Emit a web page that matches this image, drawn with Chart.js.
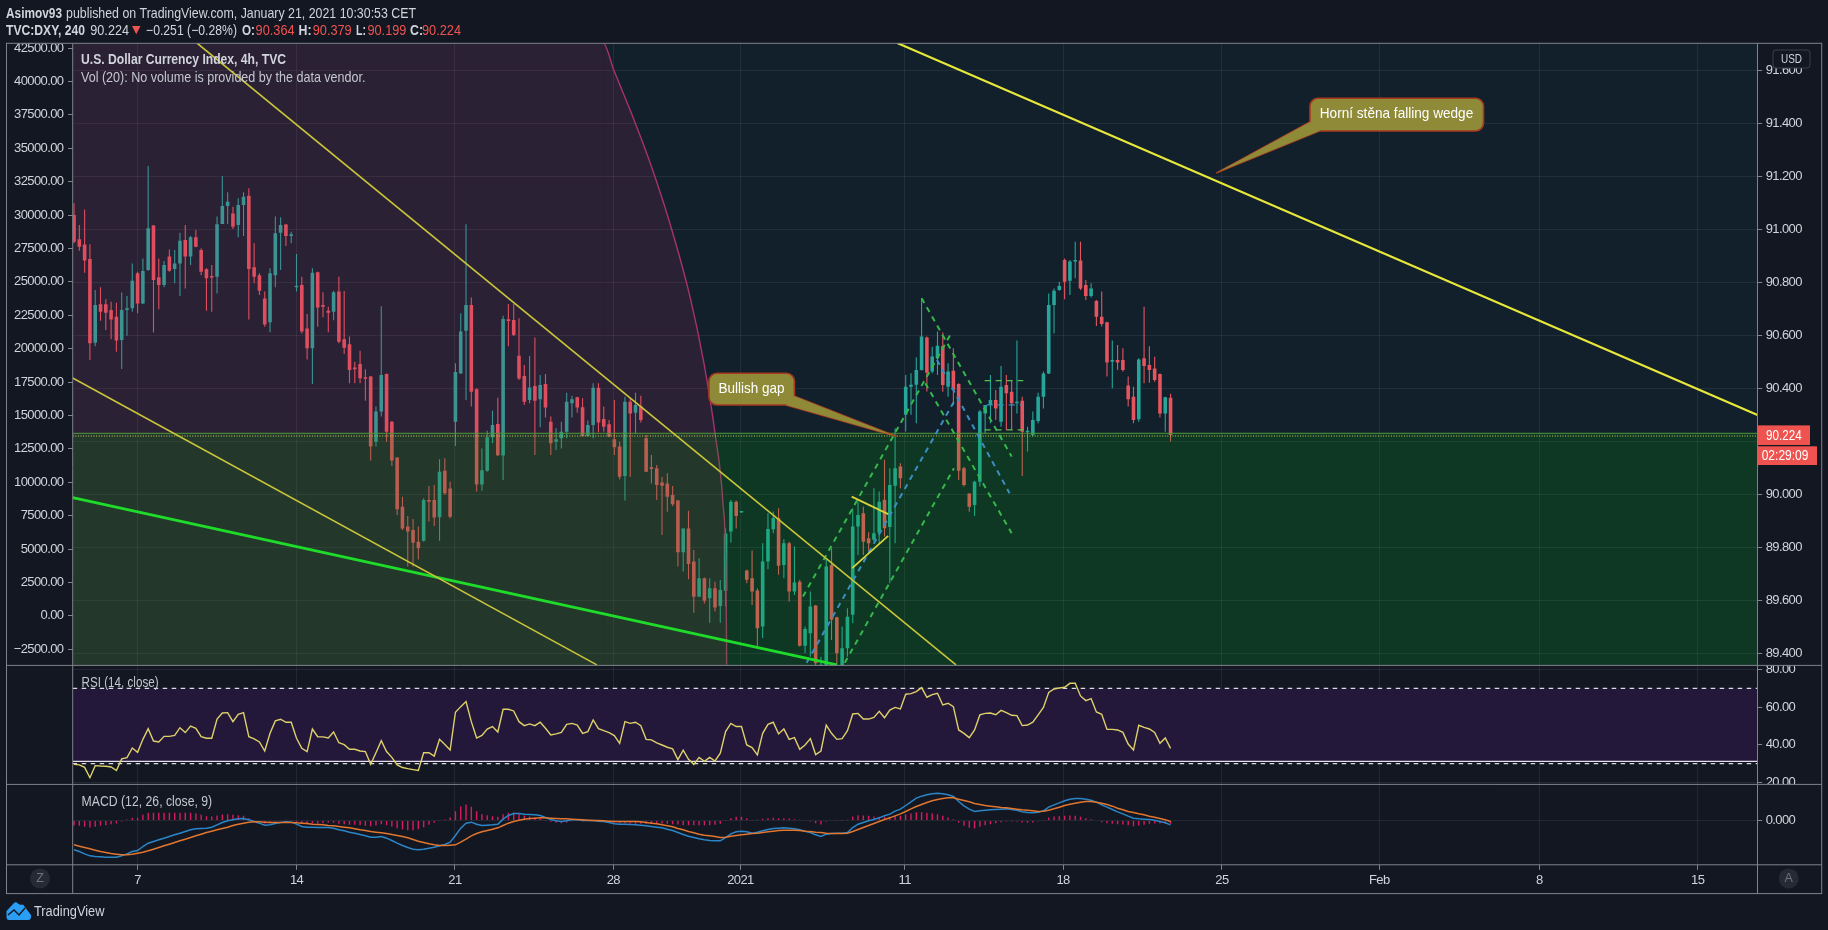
<!DOCTYPE html>
<html><head><meta charset="utf-8">
<style>html,body{margin:0;padding:0;background:#131722;overflow:hidden}canvas{display:block}</style>
<script src="https://cdn.jsdelivr.net/npm/chart.js@4/dist/chart.umd.js"></script>
</head><body><canvas id="c" width="1828" height="930"></canvas>
<script>
// ---------- data (bar index = one 4h candle) ----------
const opens = [
91.054,90.962,90.943,90.888,90.572,90.717,90.717,90.695,90.670,90.582,
90.695,90.702,90.834,90.720,90.846,91.014,90.819,90.790,90.897,90.850,
90.871,90.960,90.897,90.970,90.922,90.849,90.824,90.821,91.020,91.088,
91.060,91.016,91.092,91.127,90.857,90.827,90.739,90.649,90.827,90.987,
91.018,90.975,90.781,90.790,90.626,90.551,90.838,90.714,90.693,90.689,
90.765,90.585,90.566,90.475,90.492,90.442,90.444,90.198,90.312,90.454,
90.274,90.139,89.953,89.878,89.865,89.821,89.824,89.978,89.978,89.913,
90.089,90.022,90.274,90.456,90.617,90.714,90.396,90.037,90.089,90.215,
90.265,90.146,90.660,90.658,90.523,90.446,90.356,90.409,90.359,90.416,
90.274,90.198,90.211,90.236,90.343,90.366,90.328,90.220,90.261,90.402,
90.284,90.264,90.208,90.180,90.069,90.349,90.308,90.331,90.211,90.102,
90.098,90.044,90.041,89.997,89.976,89.781,89.871,89.746,89.613,89.683,
89.607,89.645,89.578,89.636,89.859,89.972,89.931,89.712,89.683,89.637,
89.501,89.746,89.868,89.910,89.733,89.815,89.633,89.670,89.428,89.475,
89.580,89.300,89.290,89.733,89.536,89.300,89.419,89.545,89.878,89.928,
89.834,89.828,89.855,89.979,89.876,90.032,90.105,90.300,90.406,90.413,
90.469,90.592,90.463,90.513,90.559,90.406,90.466,90.416,90.098,90.003,
89.959,90.047,90.305,90.337,90.356,90.274,90.412,90.387,90.343,90.353,
90.234,90.224,90.276,90.368,90.456,90.714,90.771,90.884,90.806,90.878,
90.882,90.790,90.748,90.729,90.670,90.649,90.500,90.507,90.507,90.410,
90.368,90.283,90.513,90.488,90.475,90.454,90.305,90.364];
const closes = [
90.953,90.934,90.882,90.570,90.714,90.689,90.685,90.660,90.580,90.695,
90.702,90.806,90.720,90.843,91.004,90.809,90.790,90.865,90.844,90.871,
90.957,90.897,90.970,90.934,90.840,90.815,90.818,91.019,91.088,91.104,
91.010,91.092,91.123,90.850,90.821,90.768,90.641,90.834,90.985,91.016,
90.975,90.981,90.786,90.614,90.551,90.836,90.705,90.708,90.685,90.762,
90.576,90.553,90.469,90.472,90.438,90.436,90.180,90.312,90.450,90.236,
90.127,89.943,89.871,89.859,89.817,89.796,89.978,89.972,89.912,90.085,
90.004,89.915,90.461,90.614,90.714,90.387,90.037,90.091,90.215,90.261,
90.147,90.661,90.654,90.601,90.437,90.349,90.403,90.353,90.412,90.327,
90.192,90.208,90.236,90.349,90.359,90.327,90.220,90.261,90.402,90.271,
90.255,90.218,90.177,90.066,90.349,90.305,90.337,90.280,90.085,90.095,
90.035,90.032,89.991,89.962,89.781,89.871,89.737,89.613,89.683,89.598,
89.645,89.573,89.639,89.852,89.972,89.918,89.933,89.677,89.633,89.494,
89.746,89.869,89.910,89.730,89.815,89.633,89.667,89.428,89.491,89.576,
89.362,89.356,89.727,89.526,89.400,89.419,89.538,89.878,89.922,89.821,
89.815,89.853,89.972,89.872,90.035,90.098,90.060,90.406,90.413,90.469,
90.595,90.459,90.520,90.560,90.412,90.463,90.393,90.089,90.035,89.953,
90.047,90.312,90.337,90.356,90.324,90.406,90.381,90.343,90.349,90.236,
90.240,90.280,90.368,90.456,90.714,90.768,90.786,90.802,90.878,90.884,
90.777,90.748,90.777,90.670,90.643,90.497,90.507,90.497,90.469,90.359,
90.280,90.509,90.484,90.469,90.431,90.305,90.366,90.224];
const highs = [
91.098,91.016,91.075,90.944,90.771,90.781,90.736,90.727,90.723,90.761,
90.748,90.871,90.840,90.890,91.239,91.016,90.890,90.880,90.924,90.922,
90.987,91.016,90.975,90.997,90.928,90.853,90.865,91.048,91.201,91.140,
91.085,91.117,91.140,91.155,90.947,90.834,90.765,90.853,91.048,91.045,
91.020,90.991,90.907,90.821,90.680,90.853,90.840,90.762,90.708,90.768,
90.821,90.767,90.595,90.500,90.542,90.472,90.446,90.331,90.710,90.456,
90.276,90.139,89.991,89.918,89.907,89.878,89.985,90.031,90.035,90.132,
90.136,90.047,90.494,90.683,91.019,90.743,90.400,90.173,90.240,90.315,
90.364,90.674,90.718,90.718,90.664,90.488,90.522,90.592,90.450,90.454,
90.293,90.249,90.274,90.383,90.372,90.368,90.362,90.278,90.419,90.419,
90.331,90.280,90.356,90.198,90.368,90.362,90.383,90.372,90.224,90.148,
90.110,90.066,90.079,90.031,89.978,89.871,89.938,89.790,89.758,89.686,
89.683,89.670,89.676,89.871,89.978,89.976,89.934,89.715,89.788,89.645,
89.815,89.928,89.935,89.947,89.830,89.821,89.803,89.677,89.501,89.633,
89.582,89.387,89.759,89.796,89.538,89.501,89.570,89.947,89.972,89.954,
89.857,90.023,90.010,90.130,90.098,90.249,90.117,90.450,90.457,90.517,
90.740,90.595,90.557,90.614,90.610,90.494,90.551,90.419,90.104,90.003,
90.051,90.318,90.337,90.450,90.393,90.484,90.450,90.431,90.580,90.368,
90.255,90.312,90.383,90.463,90.758,90.777,90.802,90.890,90.884,90.953,
90.953,90.809,90.796,90.733,90.765,90.651,90.580,90.563,90.551,90.444,
90.406,90.513,90.708,90.559,90.519,90.456,90.368,90.379];
const lows = [
90.947,90.919,90.836,90.507,90.559,90.655,90.620,90.585,90.538,90.473,
90.598,90.689,90.683,90.718,90.844,90.610,90.698,90.781,90.840,90.796,
90.748,90.777,90.865,90.932,90.827,90.693,90.689,90.758,91.020,91.020,
91.001,90.970,90.975,90.660,90.796,90.752,90.632,90.611,90.781,90.846,
90.937,90.947,90.765,90.607,90.509,90.416,90.632,90.668,90.611,90.657,
90.570,90.529,90.419,90.419,90.419,90.353,90.127,90.180,90.293,90.198,
90.107,89.922,89.865,89.727,89.727,89.754,89.821,89.897,89.880,89.824,
89.997,89.909,90.182,90.456,90.356,90.331,90.010,90.013,90.085,90.192,
90.144,90.054,90.559,90.597,90.431,90.337,90.343,90.148,90.253,90.290,
90.148,90.167,90.173,90.211,90.290,90.308,90.218,90.218,90.211,90.234,
90.236,90.215,90.148,90.056,89.976,90.066,90.230,90.271,90.085,90.041,
89.978,89.846,89.934,89.956,89.727,89.708,89.679,89.553,89.613,89.588,
89.515,89.557,89.515,89.576,89.817,89.871,89.930,89.664,89.582,89.425,
89.457,89.717,89.853,89.696,89.683,89.595,89.620,89.425,89.400,89.387,
89.343,89.280,89.270,89.450,89.356,89.280,89.387,89.513,89.771,89.771,
89.784,89.821,89.815,89.840,89.664,89.815,90.023,90.237,90.300,90.268,
90.467,90.388,90.457,90.450,90.387,90.368,90.337,90.054,90.029,89.934,
89.918,90.029,90.230,90.268,90.280,90.255,90.242,90.242,90.305,90.069,
90.161,90.218,90.268,90.324,90.454,90.607,90.768,90.736,90.752,90.815,
90.771,90.733,90.743,90.635,90.633,90.444,90.400,90.469,90.463,90.331,
90.268,90.274,90.419,90.421,90.425,90.290,90.236,90.199];
const rsiValues = [
29.6,29.3,28.0,22.5,28.9,28.7,28.6,28.2,26.3,32.5,
33.2,38.3,36.0,42.9,48.6,42.0,41.5,44.5,44.5,45.0,
49.1,46.5,50.0,48.8,44.3,43.5,43.5,53.7,56.9,57.1,
52.3,56.2,57.1,44.3,43.1,41.5,36.7,46.1,52.7,53.6,
52.0,52.0,43.5,38.1,36.4,48.4,44.3,44.2,43.6,46.8,
41.1,40.1,37.6,37.6,36.7,36.4,29.6,35.8,42.2,36.4,
33.3,29.3,27.9,27.3,26.8,26.3,35.8,35.8,34.0,42.9,
40.1,37.2,57.3,60.3,63.0,52.3,43.6,45.0,48.4,49.7,
46.8,58.9,58.9,58.0,52.3,50.2,51.1,50.2,52.0,48.8,
45.2,45.8,46.6,50.9,51.4,50.5,46.1,47.0,53.2,48.6,
47.5,46.5,44.9,40.8,52.3,51.4,52.0,50.2,42.9,42.6,
41.0,39.9,38.7,37.8,32.1,37.1,32.3,29.6,33.3,31.2,
33.3,31.4,35.5,47.0,51.4,49.7,49.7,39.9,38.5,34.6,
46.1,50.9,52.0,45.8,48.4,42.9,43.8,37.6,39.9,43.3,
34.8,36.7,50.5,46.1,42.9,43.3,47.5,56.4,56.7,53.7,
53.7,54.6,57.8,54.4,58.5,59.9,59.1,66.9,67.2,68.3,
70.4,65.3,66.7,67.4,61.2,62.1,60.3,47.9,46.1,43.8,
47.9,55.9,56.7,56.9,56.0,58.3,57.1,55.7,55.5,50.2,
50.5,52.0,55.9,59.9,67.9,69.7,70.2,70.6,72.7,72.7,
66.0,63.5,64.6,57.5,56.2,48.2,48.2,47.9,46.6,40.4,
37.2,50.4,49.3,48.4,46.6,40.8,43.6,38.1];
// MACD pane values, in thousandths of an index point
const macdLine = [
-88,-93,-100,-106,-108,-109,-110,-110,-110,-106,
-100,-93,-90,-78,-68,-63,-58,-53,-48,-43,
-38,-33,-28,-25,-24,-23,-20,-13,-6,-1,
2,5,6,2,-3,-8,-14,-13,-9,-6,
-4,-5,-11,-18,-20,-20,-21,-21,-21,-23,
-28,-31,-35,-38,-42,-46,-50,-50,-48,-53,
-60,-68,-75,-81,-86,-88,-86,-83,-80,-76,
-72,-65,-45,-23,-8,-5,-11,-15,-14,-13,
-11,4,15,21,21,19,18,17,15,9,
3,-1,-3,-1,2,2,0,0,0,-2,
-3,-6,-10,-11,-11,-12,-13,-14,-16,-18,
-20,-22,-26,-30,-36,-42,-47,-51,-55,-58,
-60,-61,-61,-51,-40,-34,-32,-34,-38,-35,
-31,-27,-24,-23,-22,-23,-25,-28,-32,-36,
-43,-48,-41,-39,-38,-38,-36,-21,-11,-6,
-1,3,8,14,19,28,34,45,56,67,
73,77,80,82,80,77,72,57,44,34,
27,29,31,32,33,34,35,33,31,26,
24,23,25,29,40,47,53,59,64,66,
66,64,61,55,47,40,33,26,20,13,
7,5,4,3,1,-3,-7,-13];
const signalLine = [
-73,-77,-81,-85,-89,-93,-96,-99,-101,-103,
-103,-101,-98,-95,-91,-86,-81,-76,-71,-66,
-61,-56,-51,-46,-41,-36,-32,-28,-24,-20,
-15,-11,-8,-5,-4,-4,-5,-6,-6,-6,
-6,-6,-7,-8,-9,-11,-12,-13,-15,-16,
-18,-20,-22,-25,-28,-30,-33,-35,-37,-39,
-42,-45,-48,-52,-57,-62,-66,-70,-73,-75,
-75,-74,-73,-65,-56,-46,-39,-34,-30,-26,
-22,-15,-8,-3,1,4,6,7,8,8,
7,6,5,5,4,3,2,1,0,0,
-1,-2,-3,-3,-3,-3,-3,-4,-6,-8,
-10,-13,-16,-19,-24,-28,-33,-37,-41,-44,
-46,-48,-51,-50,-47,-45,-43,-41,-39,-38,
-36,-34,-32,-30,-29,-29,-29,-30,-32,-33,
-35,-36,-38,-39,-39,-39,-38,-33,-27,-21,
-15,-9,-3,3,8,14,20,27,35,42,
48,54,59,63,66,68,68,64,60,56,
51,48,45,43,41,39,38,36,34,32,
31,29,27,28,31,35,40,45,49,52,
55,57,57,55,52,48,43,37,32,27,
24,20,17,13,10,6,2,-3];
const macdHist = [
-15,-16,-19,-21,-19,-16,-14,-11,-9,-3,
3,8,8,17,23,23,23,23,23,23,
23,23,23,21,17,13,12,15,18,19,
17,16,14,7,1,-4,-9,-7,-3,0,
2,1,-4,-10,-11,-9,-9,-8,-6,-7,
-10,-11,-13,-13,-14,-16,-17,-15,-11,-14,
-18,-23,-27,-29,-29,-26,-20,-13,-7,-1,
3,9,28,42,48,41,28,19,16,13,
11,19,23,24,20,15,12,10,7,1,
-4,-7,-8,-6,-2,-1,-2,-1,0,-2,
-2,-4,-7,-8,-8,-9,-10,-10,-10,-10,
-10,-9,-10,-11,-12,-14,-14,-14,-14,-14,
-14,-13,-10,-1,7,11,11,7,1,3,
5,7,8,7,7,6,4,2,0,-3,
-8,-12,-3,0,1,1,2,12,16,15,
14,12,11,11,11,14,14,18,21,25,
25,23,21,19,14,9,4,-7,-16,-22,
-24,-19,-14,-11,-8,-5,-3,-3,-3,-6,
-7,-6,-2,1,9,12,13,14,15,14,
11,7,4,0,-5,-8,-10,-11,-12,-14,
-17,-15,-13,-10,-9,-9,-9,-10];

const timeTickBars = [12,42,71.9,101.8,125.8,156.8,186.7,216.7,246.4,276.6,306.5];
const timeTickLabels = ['7','14','21','28','2021','11','18','25','Feb','8','15'];
const priceTicks = [89.4,89.6,89.8,90.0,90.2,90.4,90.6,90.8,91.0,91.2,91.4,91.6];
const volumeTicks = [-2500,0,2500,5000,7500,10000,12500,15000,17500,20000,22500,25000,27500,30000,32500,35000,37500,40000,42500];
const rsiTicks = [20,40,60,80];
const macdTicks = [0];
// drawings, as [bar index, price]
const fibArc = [[-0.25,91.703],[99.9,91.703],[101.9,91.601],[105.5,91.424],[108.9,91.243],[112.3,91.035],[116.3,90.744],[118.9,90.496],[121.0,90.231],[122.5,89.967],[123.1,89.650],[123.2,89.356]];
const gapTop = [[-0.25,90.230],[317.8,90.230]];
const lastPriceLine = [[-0.25,90.220],[317.8,90.220]];
const wedgeUpper = [[155.4,91.703],[317.8,90.299]];
const fallingUpper = [[23.2,91.703],[166.5,89.356]];
const fallingLower = [[-0.25,90.439],[98.7,89.356]];
const greenSupport = [[-0.25,89.987],[144.0,89.356]];
const flagTop = [[146.8,89.991],[153.7,89.925]];
const flagBottom = [[146.9,89.721],[153.7,89.843]];
const channelUpper = [[137.6,89.614],[165.4,90.601]];
const channelLower = [[145.5,89.364],[166.1,90.098]];
const channelDownA = [[160.0,90.740],[177.0,90.142]];
const channelDownB = [[160.7,90.419],[177.0,89.853]];
const channelMidUp = [[138.3,89.364],[166.1,90.349]];
const channelMidDown = [[162.9,90.507],[176.6,90.004]];
const rangeTop = [[171.9,90.429],[179.2,90.429]];
const rangeBottom = [[171.9,90.243],[179.2,90.243]];
const rangeMid = [[172.3,90.337],[178.8,90.337]];
const rsiUpperBand = [[-0.25,70],[317.8,70]];
const rsiLowerBand = [[-0.25,30],[317.8,30]];
const rsiBandFloor = [[-0.25,31.2],[317.8,31.2]];

// ---------- layout / style ----------
const F = '"Liberation Sans",sans-serif';
const TXT = '#d1d4dc', FRAME = '#80838c', GRID = 'rgba(255,255,255,0.07)', RED = '#ef5350';
const UP = '#26a69a', DOWN = '#e4555f';
const X_MIN = -0.25, X_MAX = 317.8;
const bars = opens.map((_, i) => i);
const pts = a => a.map(p => ({x: p[0], y: p[1]}));
const series = a => a.map((v, i) => ({x: i, y: v}));
const candleColor = opens.map((o, i) => closes[i] >= o ? UP : DOWN);

function line(a, yAxisID, color, width, dash, order) {
  return {type: 'line', data: pts(a), yAxisID, borderColor: color, borderWidth: width,
    borderDash: dash || [], pointRadius: 0, tension: 0, fill: false, order: order || 5};
}
const GD = '#35b84a', BD = '#3a8fc0';
const datasets = [
  {type: 'bar', yAxisID: 'yP', order: 20, grouped: false, barThickness: 1.1, inflateAmount: 0,
   backgroundColor: candleColor, data: bars.map(i => ({x: i, y: [lows[i], highs[i]]}))},
  {type: 'bar', yAxisID: 'yP', order: 19, grouped: false, barThickness: 3.6, inflateAmount: 0, minBarLength: 1.6,
   backgroundColor: candleColor, data: bars.map(i => ({x: i, y: [opens[i], closes[i]]}))},
  {type: 'line', yAxisID: 'yP', order: 18, data: pts(fibArc), pointRadius: 0, cubicInterpolationMode: 'monotone', borderWidth: 1.4,
   borderColor: '#a8316f', fill: 'start', backgroundColor: 'rgba(185,39,104,0.15)',
   segment: {borderColor: c => c.p0DataIndex === 0 ? 'rgba(0,0,0,0)' : '#a8316f'}},
  {type: 'line', yAxisID: 'yP', order: 17, data: pts(gapTop), pointRadius: 0, tension: 0, borderWidth: 1,
   borderColor: '#4f9a3a', fill: 'start', backgroundColor: 'rgba(0,170,0,0.17)'},
  line(lastPriceLine, 'yP', 'rgba(190,190,90,0.75)', 1.6, [1, 1.6], 16),
  line(fallingUpper, 'yP', '#c9c43a', 1.6),
  line(fallingLower, 'yP', '#c9c43a', 1.6),
  line(greenSupport, 'yP', '#1fdc2a', 2.8),
  line(wedgeUpper, 'yP', '#e8e83a', 2.2),
  line(flagTop, 'yP', '#d6d23c', 1.8),
  line(flagBottom, 'yP', '#d6d23c', 1.8),
  line(channelUpper, 'yP', GD, 2, [5.5, 5]),
  line(channelLower, 'yP', GD, 2, [5.5, 5]),
  line(channelDownA, 'yP', GD, 2, [5.5, 5]),
  line(channelDownB, 'yP', GD, 2, [5.5, 5]),
  line(channelMidUp, 'yP', BD, 2, [5.5, 5]),
  line(channelMidDown, 'yP', BD, 2, [5.5, 5]),
  line(rangeTop, 'yP', '#56c14a', 1.2, [6, 5]),
  line(rangeBottom, 'yP', '#56c14a', 1.2, [6, 5]),
  line(rangeMid, 'yP', BD, 1.2, [6, 5]),

  {type: 'line', yAxisID: 'yR', order: 8, data: pts(rsiUpperBand), pointRadius: 0, borderWidth: 0,
   fill: {value: 31.2}, backgroundColor: '#24183a'},
  line(rsiUpperBand, 'yR', '#d9dbe3', 1.2, [4.5, 4.5], 6),
  line(rsiLowerBand, 'yR', '#d9dbe3', 1.2, [4.5, 4.5], 6),
  line(rsiBandFloor, 'yR', '#e4deee', 1.4, [], 6),
  {type: 'line', yAxisID: 'yR', order: 4, data: series(rsiValues), pointRadius: 0, tension: 0,
   borderColor: '#ded06a', borderWidth: 1.4},

  {type: 'bar', yAxisID: 'yM', order: 6, grouped: false, barThickness: 1.4, inflateAmount: 0,
   backgroundColor: '#d81b60', data: series(macdHist)},
  {type: 'line', yAxisID: 'yM', order: 5, data: series(macdLine), pointRadius: 0, tension: 0,
   borderColor: '#2a86c8', borderWidth: 1.5},
  {type: 'line', yAxisID: 'yM', order: 4, data: series(signalLine), pointRadius: 0, tension: 0,
   borderColor: '#e0762f', borderWidth: 1.5}
];

function yAxis(ticks, fmt, extra) {
  return Object.assign({
    type: 'linear', position: 'right', stack: 'panes',
    afterBuildTicks: s => { s.ticks = ticks.map(v => ({value: v})); },
    afterFit: s => { s.width = 64.2; },
    border: {display: false},
    grid: {color: GRID, tickColor: FRAME, tickLength: 4.7},
    ticks: {color: TXT, padding: 3.5, autoSkip: false, font: {family: F, size: 13}, callback: fmt}
  }, extra);
}

// text is condensed horizontally to the width it has in the picture
function label(ctx, t, x, y, color, font, w, align) {
  ctx.save();
  ctx.letterSpacing = '0px';
  ctx.fillStyle = color; ctx.font = font; ctx.textBaseline = 'middle'; ctx.textAlign = 'left';
  const natural = ctx.measureText(t).width;
  const sx = w ? w / natural : 1;
  const left = align === 'center' ? x - natural * sx / 2 : x;
  ctx.translate(left, y); ctx.scale(sx, 1);
  ctx.fillText(t, 0, 0);
  ctx.restore();
}
function callout(ctx, box, tail, text, cx, cy, w, tip) {
  ctx.save();
  ctx.fillStyle = '#8e8a38'; ctx.strokeStyle = '#a8391f'; ctx.lineWidth = 1.6;
  const wedge = () => { ctx.beginPath(); ctx.moveTo(tail[0][0], tail[0][1]); ctx.lineTo(tip[0], tip[1]); ctx.lineTo(tail[1][0], tail[1][1]); ctx.closePath(); };
  wedge(); ctx.fill(); ctx.stroke();
  ctx.beginPath(); ctx.roundRect(box[0], box[1], box[2], box[3], 8); ctx.fill(); ctx.stroke();
  wedge(); ctx.fill();
  ctx.restore();
  label(ctx, text, cx, cy, '#ffffff', '14.5px ' + F, w, 'center');
}

const chrome = {
  id: 'chrome',
  beforeDraw(chart) {
    const ctx = chart.ctx, y = chart.scales.yP, a = chart.chartArea;
    ctx.letterSpacing = '-0.6px';
    ctx.save(); ctx.fillStyle = '#12202c';
    ctx.fillRect(a.left, y.top, a.right - a.left, y.bottom - y.top); ctx.restore();
  },
  afterDraw(chart) {
    const ctx = chart.ctx, a = chart.chartArea, s = chart.scales;
    const yP = s.yP, yR = s.yR, yM = s.yM, xs = s.x;
    const BG = '#131722', L = 6.5, R = 1821.7, B = 893.6;
    ctx.save();
    // labels cut by the pane edges
    ctx.fillStyle = BG;
    ctx.fillRect(7, a.top - 12, 65, 12);
    ctx.fillRect(a.right + 1, yP.bottom - 5.4, 62, 5.4);
    ctx.fillRect(a.right + 1, yR.bottom, 62, 6);
    // frame
    ctx.strokeStyle = FRAME; ctx.lineWidth = 1;
    ctx.strokeRect(L, a.top, R - L, B - a.top);
    [yP.bottom, yR.bottom, yM.bottom].forEach(v => { ctx.beginPath(); ctx.moveTo(L, v); ctx.lineTo(R, v); ctx.stroke(); });
    [a.left, a.right].forEach(v => { ctx.beginPath(); ctx.moveTo(v, a.top); ctx.lineTo(v, B); ctx.stroke(); });

    // header
    const f = '14.5px ' + F, fb = 'bold 14.5px ' + F;
    label(ctx, 'Asimov93', 6, 13.5, TXT, fb, 56);
    label(ctx, 'published on TradingView.com, January 21, 2021 10:30:53 CET', 66, 13.5, TXT, f, 350);
    label(ctx, 'TVC:DXY, 240', 6, 30.5, TXT, fb, 79);
    label(ctx, '90.224', 90.3, 30.5, TXT, f, 38.7);
    label(ctx, '\u25BC', 132, 30.5, RED, '11px "DejaVu Sans"');
    label(ctx, '\u22120.251 (\u22120.28%)', 146, 30.5, TXT, f, 91);
    [['O:', 242, '90.364', 255.6], ['H:', 298.5, '90.379', 312.7], ['L:', 356, '90.199', 367.4], ['C:', 410, '90.224', 422]]
      .forEach(r => { label(ctx, r[0], r[1], 30.5, TXT, fb, r[0] === 'L:' ? 10 : 13); label(ctx, r[2], r[3], 30.5, RED, f, 39); });

    // pane titles
    label(ctx, 'U.S. Dollar Currency Index, 4h, TVC', 81, 60, TXT, fb, 205);
    label(ctx, 'Vol (20): No volume is provided by the data vendor.', 81, 77.5, '#c4c7cf', f, 284.5);
    label(ctx, 'RSI (14, close)', 81.6, 682.5, '#c4c7cf', f, 77);
    label(ctx, 'MACD (12, 26, close, 9)', 81.6, 801.5, '#c4c7cf', f, 130.6);

    // callouts
    callout(ctx, [709, 373.3, 85.4, 31.7], [[794, 396], [786, 405]], 'Bullish gap', 751.5, 388.5, 66,
      [xs.getPixelForValue(155.3), yP.getPixelForValue(90.218)]);
    callout(ctx, [1310, 98.3, 173.5, 32.7], [[1310, 122], [1320, 130.8]], 'Horn\u00ed st\u011bna falling wedge', 1396.5, 114, 153.4,
      [xs.getPixelForValue(215.6), yP.getPixelForValue(91.212)]);

    // USD box
    ctx.fillStyle = BG; ctx.strokeStyle = '#3a3e4a'; ctx.beginPath(); ctx.roundRect(1773, 50, 37, 18, 3); ctx.fill(); ctx.stroke();
    label(ctx, 'USD', 1791.5, 59, TXT, '13.5px ' + F, 21, 'center');

    // last price + countdown
    ctx.fillStyle = RED; ctx.fillRect(a.right, 425.4, 52.5, 19.6); ctx.fillRect(a.right, 446.3, 59.5, 18.7);
    label(ctx, '90.224', 1766, 435.5, '#ffffff', '14.5px ' + F, 35.7);
    label(ctx, '02:29:09', 1761.7, 455.8, '#ffffff', '14.5px ' + F, 46.7);

    // Z and A buttons
    [[40, 'Z'], [1788.7, 'A']].forEach(r => {
      ctx.fillStyle = '#262a35'; ctx.beginPath(); ctx.arc(r[0], 878.4, 10, 0, 7); ctx.fill();
      label(ctx, r[1], r[0], 878.4, '#6f7380', '12.5px ' + F, 0, 'center');
    });

    // TradingView mark
    ctx.fillStyle = '#2a9df4';
    ctx.beginPath();
    ctx.moveTo(6.5, 917); ctx.lineTo(6.5, 911); ctx.lineTo(14, 903); ctx.quadraticCurveTo(16, 901.5, 18, 903.5);
    ctx.quadraticCurveTo(20, 905.5, 23, 904.5); ctx.lineTo(31, 915); ctx.lineTo(31, 917); ctx.quadraticCurveTo(31, 920, 28, 920); ctx.lineTo(9, 920); ctx.quadraticCurveTo(6.5, 920, 6.5, 917); ctx.closePath(); ctx.fill();
    ctx.strokeStyle = BG; ctx.lineWidth = 1.4;
    ctx.beginPath(); ctx.moveTo(8, 915); ctx.lineTo(14, 910); ctx.lineTo(19, 915); ctx.lineTo(25, 908); ctx.stroke();
    label(ctx, 'TradingView', 34, 911.7, TXT, '15.5px ' + F, 70.5);
    ctx.restore();
  }
};

new Chart(document.getElementById('c'), {
  type: 'bar',
  data: {datasets},
  plugins: [chrome],
  options: {
    responsive: false, maintainAspectRatio: false, animation: false, devicePixelRatio: 1,
    layout: {padding: {top: 43.3, bottom: 36.4, left: 0, right: 6.3}},
    plugins: {legend: {display: false}, tooltip: {enabled: false}},
    events: [],
    scales: {
      x: {
        type: 'linear', min: X_MIN, max: X_MAX, offset: false,
        afterBuildTicks: s => { s.ticks = timeTickBars.map(v => ({value: v})); },
        afterFit: s => { s.height = 28.8; },
        border: {display: false},
        grid: {offset: false, color: GRID, tickColor: FRAME, tickLength: 5},
        ticks: {color: TXT, padding: 3, autoSkip: false, maxRotation: 0, font: {family: F, size: 13},
          callback: (v, i) => timeTickLabels[i]}
      },
      yP: yAxis(priceTicks, v => Math.abs(v - 90.2) < 1e-6 ? '' : v.toFixed(3), {min: 89.354, max: 91.702, stackWeight: 622.1}),
      yR: yAxis(rsiTicks, v => v.toFixed(2), {min: 18.94, max: 82.23, stackWeight: 119}),
      yM: yAxis(macdTicks, v => '0.000', {min: -132.9, max: 108.3, stackWeight: 80.4}),
      yV: {
        type: 'linear', position: 'left', min: -18642, max: 42862,
        afterBuildTicks: s => { s.ticks = volumeTicks.map(v => ({value: v})); },
        afterFit: s => { s.width = 72.7; },
        border: {display: false},
        grid: {drawOnChartArea: false, tickColor: FRAME, tickLength: 4.7},
        ticks: {color: TXT, padding: 4.5, autoSkip: false, font: {family: F, size: 13},
          callback: v => (v < 0 ? '\u2212' + Math.abs(v).toFixed(2) : v.toFixed(2))}
      }
    }
  }
});
</script></body></html>
